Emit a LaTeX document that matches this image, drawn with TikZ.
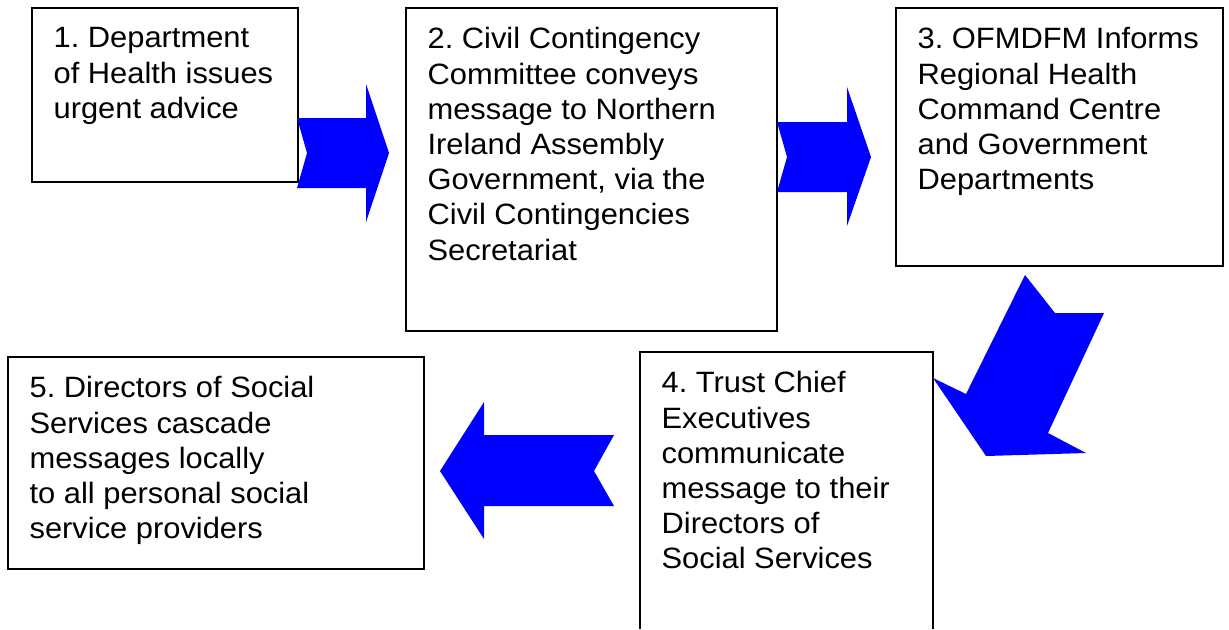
\documentclass[tikz,border=0pt]{standalone}
\usepackage{fontspec}
\setmainfont[FakeStretch=1.05]{Liberation Sans}
\frenchspacing
\begin{document}
\begin{tikzpicture}[x=0.5pt, y=-0.5pt, line width=0.6pt]

	%boxes are drawn as rectangles, their texts have names of the form t1, t2 ...
	%all coordinates are in pixels of the original picture


	\def\inset{21}
	\def\drop{19}
	\tikzset{boxtext/.style={anchor=north west, inner sep=0pt, align=left, font=\fontsize{14.7}{17.6}\selectfont}}
	\tikzset{bigarrow/.style={fill=blue, draw=none}}

	\useasboundingbox (0,0) rectangle (1229,629);

	%boxes, upper row and lower left
	\foreach \xa/\ya/\xb/\yb in {32/8/298/182, 406/8/777/331, 896/8/1223/266, 8/357/424/569}
   {
		\draw (\xa,\ya) rectangle (\xb,\yb);
   }

	%box 4 runs off the bottom of the page
	\draw (640,629) -- (640,352) -- (933,352) -- (933,629);

	%texts
	\node[boxtext] (t1) at (32+\inset, 8+\drop) {1. Department\\of Health issues\\urgent advice};
	\node[boxtext] (t2) at (406+\inset, 8+\drop) {2. Civil Contingency\\Committee conveys\\message to Northern\\Ireland Assembly\\Government, via the\\Civil Contingencies\\Secretariat};
	\node[boxtext] (t3) at (896+\inset, 8+\drop) {3. OFMDFM Informs\\Regional Health\\Command Centre\\and Government\\Departments};
	\node[boxtext] (t4) at (640+\inset, 352+\drop) {4. Trust Chief\\Executives\\communicate\\message to their\\Directors of\\Social Services};
	\node[boxtext] (t5) at (8+\inset, 357+\drop) {5. Directors of Social\\Services cascade\\messages locally\\to all personal social\\service providers};

	%Arrows

	%1 to 2
	\fill[bigarrow] (297,118) -- (366,118) -- (366,84) -- (389,153) -- (366,222) -- (366,188) -- (297,188) -- (307,153) -- cycle;
	%2 to 3
	\fill[bigarrow] (777,122) -- (847,122) -- (847,87) -- (871,157) -- (847,226) -- (847,192) -- (777,192) -- (787,157) -- cycle;
	%3 to 4, tilted
	\fill[bigarrow] (1025,275) -- (1055,313) -- (1104,313) -- (1048,433) -- (1086,453) -- (986,456) -- (933,378) -- (966,394) -- cycle;
	%4 to 5
	\fill[bigarrow] (614,435) -- (484,435) -- (484,402) -- (440,471) -- (484,539) -- (484,506) -- (614,506) -- (594,471) -- cycle;

\end{tikzpicture}
\end{document}
